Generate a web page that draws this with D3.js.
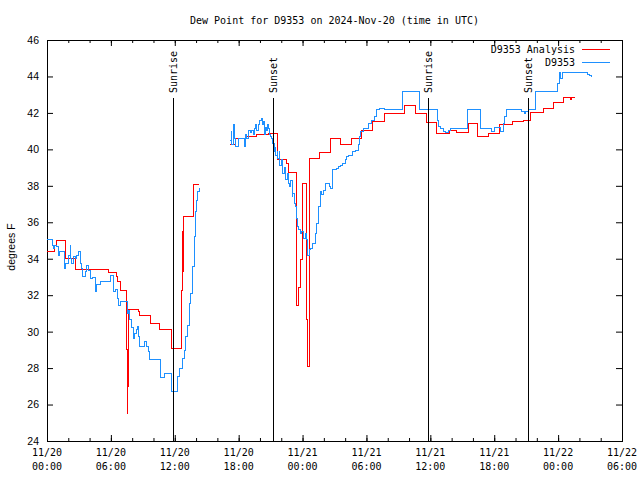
<!DOCTYPE html>
<html><head><meta charset="utf-8">
<script src="https://cdn.jsdelivr.net/npm/d3@7"></script>
<style>
html,body{margin:0;padding:0;background:#fff;}
svg{display:block;}
</style></head>
<body>
<svg id="c" width="640" height="480"></svg>
<script>
// ---------------- data ----------------
const titleText = "Dew Point for D9353 on 2024-Nov-20 (time in UTC)";
const yLabelText = "degrees F";
const seriesNames = ["D9353 Analysis", "D9353"];
const yTicks = [24,26,28,30,32,34,36,38,40,42,44,46];

// hours after 2024-11-20 00:00 UTC
const redHours = [0.00,0.70,0.85,1.70,2.63,5.76,6.51,6.64,6.86,7.47,7.52,7.58,7.65,8.57,8.67,9.74,10.61,11.65,11.71,12.65,12.74,12.79,12.84,13.74,13.80,14.30,
  15.5,
  17.19,17.72,18.66,19.69,20.78,21.63,22.51,22.66,23.45,23.60,23.78,23.97,24.40,24.50,24.63,25.57,26.58,27.58,28.64,29.55,30.60,31.74,33.62,34.56,35.60,36.60,37.79,38.48,39.57,40.44,41.45,42.54,43.68,44.73,45.36,46.62,47.55,48.50,49.15,49.25,49.60];
const redValues = [34.4,34.7,35.0,34.02,33.42,33.23,33.0,32.74,32.28,29.0,25.5,26.98,31.23,31.1,30.91,30.42,30.09,29.63,29.08,32.28,35.52,33.3,36.34,36.77,38.08,38.08,
  null,
  40.28,40.57,40.73,40.79,40.88,39.42,39.24,38.72,31.46,32.4,33.97,38.1,30.64,28.1,39.51,39.82,40.6,40.25,40.6,41.06,41.55,41.98,42.38,41.98,41.45,40.88,41.06,40.94,41.43,40.7,40.85,41.39,41.52,41.6,42.02,42.22,42.58,42.85,42.72,42.85,42.85];

const blueHours = [0.00,0.50,0.59,0.75,0.91,1.06,1.22,1.60,1.69,1.78,2.00,2.16,2.23,2.32,2.47,2.63,2.79,2.94,3.10,3.26,3.35,3.57,3.73,3.88,4.04,4.27,4.51,4.67,4.98,5.92,6.23,6.39,6.60,6.76,6.86,7.54,7.64,7.79,7.95,8.10,8.26,8.42,8.48,8.57,8.73,9.20,9.36,9.51,9.67,10.68,11.08,11.65,11.71,12.24,12.40,12.74,12.89,13.05,13.21,13.36,13.52,13.68,13.81,13.93,14.06,14.18,14.30,
  15.5,
  17.19,17.28,17.35,17.50,17.61,17.72,18.03,18.31,18.53,18.66,18.78,18.91,19.07,19.25,19.37,19.49,19.60,19.72,19.84,19.97,20.10,20.22,20.31,20.41,20.50,20.60,20.69,20.78,20.87,21.00,21.13,21.22,21.32,21.41,21.50,21.60,21.66,21.81,21.88,22.04,22.10,22.26,22.42,22.54,22.66,22.76,22.87,23.01,23.10,23.23,23.34,23.40,23.51,23.62,23.76,23.92,24.07,24.23,24.39,24.51,24.63,24.76,24.95,25.17,25.33,25.48,25.64,25.80,25.95,26.20,26.51,26.64,26.77,27.21,27.37,27.52,27.77,27.99,28.15,28.30,28.71,28.93,29.24,29.33,29.40,29.77,30.17,30.49,30.71,30.90,31.27,31.74,33.41,34.96,36.66,36.75,36.91,37.28,37.47,37.69,37.85,39.51,40.67,41.76,42.07,42.61,42.85,43.01,43.17,44.42,44.57,44.80,44.98,45.20,45.90,47.96,48.11,48.22,48.41,50.69,50.80,50.95,51.16];
const blueValues = [35.07,34.75,34.57,34.75,34.66,34.2,34.39,33.93,33.47,33.75,34.2,34.75,34.02,33.75,34.1,34.0,34.2,34.39,33.75,33.47,33.0,33.3,33.65,33.38,32.93,32.97,32.19,32.56,32.74,33.1,32.19,32.32,31.83,31.46,31.64,31.0,31.18,30.64,30.2,29.63,29.9,30.09,30.27,29.72,29.21,29.45,29.21,28.9,28.48,27.49,27.71,27.25,26.7,27.52,27.98,28.53,28.99,29.72,30.36,31.55,32.1,33.56,35.21,36.58,37.22,37.68,37.86,
  null,
  40.5,40.97,40.24,41.35,40.6,40.15,40.6,40.6,40.15,40.79,40.6,41.06,40.9,41.06,40.79,41.15,41.34,41.06,41.34,41.61,41.7,41.34,41.52,40.8,41.2,41.06,41.34,41.15,40.8,40.7,40.6,40.3,39.9,40.1,39.69,39.9,39.51,39.9,39.14,39.42,38.69,39.0,38.32,38.7,38.14,37.95,38.3,37.4,37.6,37.04,36.86,36.22,35.76,35.6,35.39,35.5,35.12,35.39,35.03,34.2,34.5,34.57,34.84,35.39,35.94,36.86,37.68,37.5,37.77,38.14,37.95,37.86,38.87,38.96,39.05,39.14,39.24,39.42,39.6,39.69,39.87,39.96,40.24,40.7,40.97,41.16,41.43,41.61,41.79,42.2,42.25,42.2,43.16,42.2,41.61,41.25,41.16,40.97,40.9,41.02,41.16,42.2,41.16,40.97,41.2,40.97,41.43,41.8,42.2,42.2,42.07,41.98,42.07,42.2,43.2,43.6,44.2,43.9,44.2,44.2,44.12,44.05,43.98];

const eventLabels = ["Sunrise","Sunset","Sunrise","Sunset"];
const eventHours = [11.80, 21.20, 35.81, 45.17];

// ---------------- layout ----------------
const L = 47, R = 622, T = 40, B = 441;
const red = "#ff0000", blue = "#1e90ff";
const mono = "'DejaVu Sans Mono', 'Liberation Mono', monospace";
const sans = "'Liberation Sans', Arial, sans-serif";

const t0 = Date.UTC(2024, 10, 20, 0, 0, 0);
const toDate = h => new Date(t0 + h * 3600e3);

const svg = d3.select("#c");
const x = d3.scaleUtc().domain([toDate(0), toDate(54)]).range([L, R]);
const y = d3.scaleLinear().domain([24, 46]).range([B, T]);

// title
svg.append("text").attr("x", (L + R) / 2).attr("y", 20).attr("dy", "0.35em")
  .attr("text-anchor", "middle").attr("font-family", mono).attr("font-size", 10)
  .text(titleText);

// y label
svg.append("text").attr("transform", "translate(11,247) rotate(-90)")
  .attr("text-anchor", "middle").attr("dy", "0.35em")
  .attr("font-family", sans).attr("font-size", 10.5).text(yLabelText);

// axes (ticks inward)
function styleAxis(g) {
  g.select(".domain").remove();
  g.selectAll(".tick line").attr("stroke", "#000");
}
svg.append("g").attr("transform", `translate(0,${B})`)
  .call(d3.axisBottom(x).ticks(d3.utcHour.every(2)).tickSize(-3).tickFormat(""))
  .call(styleAxis);
svg.append("g").attr("transform", `translate(0,${B})`)
  .call(d3.axisBottom(x).ticks(d3.utcHour.every(6)).tickSize(-6).tickFormat(""))
  .call(styleAxis);
svg.append("g").attr("transform", `translate(0,${T})`)
  .call(d3.axisTop(x).ticks(d3.utcHour.every(2)).tickSize(-3).tickFormat(""))
  .call(styleAxis);
svg.append("g").attr("transform", `translate(0,${T})`)
  .call(d3.axisTop(x).ticks(d3.utcHour.every(6)).tickSize(-6).tickFormat(""))
  .call(styleAxis);

const yl = svg.append("g").attr("transform", `translate(${L},0)`)
  .call(d3.axisLeft(y).tickValues(yTicks).tickSize(-6).tickPadding(8).tickFormat(d3.format("d")))
  .call(styleAxis);
yl.selectAll(".tick text").attr("font-family", sans).attr("font-size", 10.5).attr("fill", "#000");
svg.append("g").attr("transform", `translate(${R},0)`)
  .call(d3.axisRight(y).tickValues(yTicks).tickSize(-6).tickFormat(""))
  .call(styleAxis);

// x tick labels (two lines)
const fmtD = d3.utcFormat("%m/%d"), fmtT = d3.utcFormat("%H:%M");
const xl = svg.append("g").attr("font-family", mono).attr("font-size", 10).attr("text-anchor", "middle");
x.ticks(d3.utcHour.every(6)).forEach(d => {
  const t = xl.append("text").attr("x", x(d));
  t.append("tspan").attr("x", x(d)).attr("y", 452).attr("dy", "0.35em").text(fmtD(d));
  t.append("tspan").attr("x", x(d)).attr("y", 466).attr("dy", "0.35em").text(fmtT(d));
});

// frame
svg.append("rect").attr("x", L + 0.5).attr("y", T + 0.5).attr("width", R - L).attr("height", B - T)
  .attr("fill", "none").attr("stroke", "#000").attr("shape-rendering", "crispEdges");

// series
const line = d3.line()
  .defined(d => d.v != null)
  .x(d => x(toDate(d.h))).y(d => y(d.v))
  .curve(d3.curveStepAfter);
const redData = redHours.map((h, i) => ({ h, v: redValues[i] }));
const blueData = blueHours.map((h, i) => ({ h, v: blueValues[i] }));

svg.append("path").datum(redData).attr("d", line).attr("fill", "none")
  .attr("stroke", red).attr("stroke-width", 1).attr("shape-rendering", "crispEdges");
svg.append("path").datum(blueData).attr("d", line).attr("fill", "none")
  .attr("stroke", blue).attr("stroke-width", 1).attr("shape-rendering", "crispEdges");

// sunrise / sunset markers
eventHours.forEach((h, i) => {
  const xp = Math.round(x(toDate(h))) + 0.5;
  svg.append("line").attr("x1", xp).attr("x2", xp).attr("y1", 98).attr("y2", B)
    .attr("stroke", "#000").attr("stroke-width", 1);
  svg.append("text").attr("transform", `translate(${xp},93) rotate(-90)`)
    .attr("dy", "0.35em").attr("text-anchor", "start")
    .attr("font-family", mono).attr("font-size", 10).text(eventLabels[i]);
});

// legend
const legColors = [red, blue];
seriesNames.forEach((name, i) => {
  const ly = 49 + i * 13;
  svg.append("text").attr("x", 575).attr("y", ly).attr("dy", "0.35em")
    .attr("text-anchor", "end").attr("font-family", mono).attr("font-size", 10).text(name);
  svg.append("line").attr("x1", 582).attr("x2", 610).attr("y1", ly + 0.5).attr("y2", ly + 0.5)
    .attr("stroke", legColors[i]).attr("stroke-width", 1);
});
</script>
</body></html>
